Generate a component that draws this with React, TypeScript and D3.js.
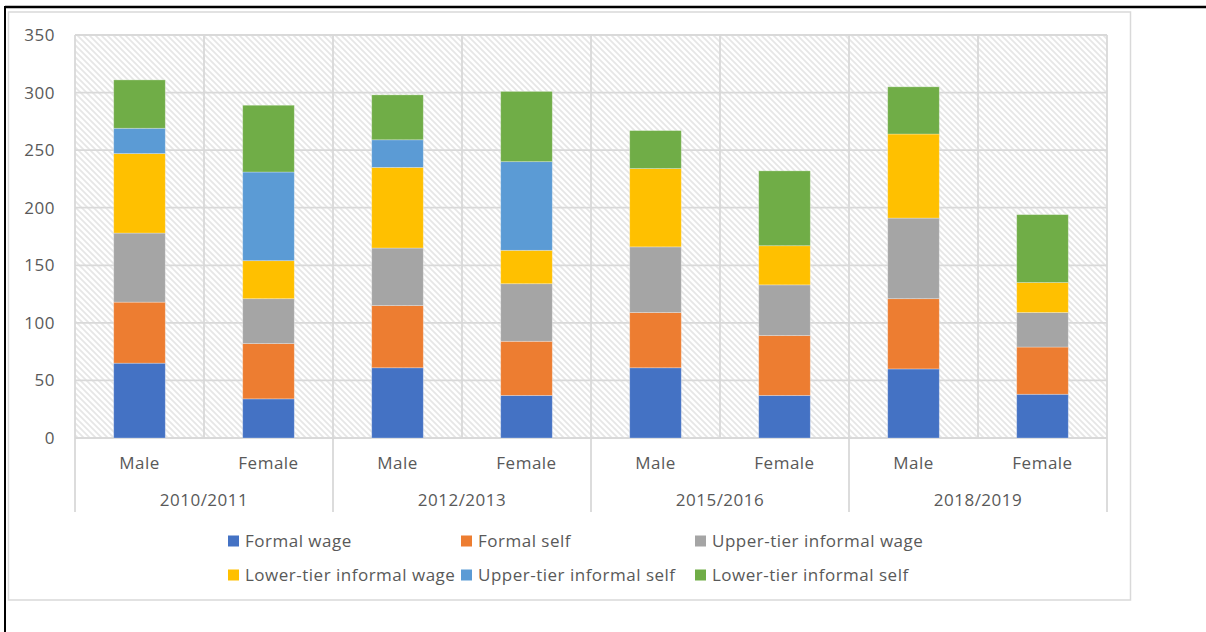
import * as d3 from "d3";

const years = ["2010/2011", "2012/2013", "2015/2016", "2018/2019"];
const sexes = ["Male", "Female"];
const seriesNames = [
  "Formal wage",
  "Formal self",
  "Upper-tier informal wage",
  "Lower-tier informal wage",
  "Upper-tier informal self",
  "Lower-tier informal self",
];
const colors = ["#4472C4", "#ED7D31", "#A5A5A5", "#FFC000", "#5B9BD5", "#70AD47"];

// order: 2010 M, 2010 F, 2012 M, 2012 F, 2015 M, 2015 F, 2018 M, 2018 F
const formalWage = [65, 34, 61, 37, 61, 37, 60, 38];
const formalSelf = [53, 48, 54, 47, 48, 52, 61, 41];
const upperWage = [60, 39, 50, 50, 57, 44, 70, 30];
const lowerWage = [69, 33, 70, 29, 68, 34, 73, 26];
const upperSelf = [22, 77, 24, 77, 0, 0, 0, 0];
const lowerSelf = [42, 58, 39, 61, 33, 65, 41, 59];

const yTicks = [0, 50, 100, 150, 200, 250, 300, 350];

const W = 1206;
const H = 632;
const plot = { left: 75, right: 1107, top: 35, bottom: 438 };
const font = "'Open Sans', 'Noto Sans', sans-serif";
const fontSize = 17;
const spacing = 0.5;
const textColor = "#595959";
const gridColor = "#d9d9d9";

export default function App() {
  const cats = years.flatMap((yr) => sexes.map((s) => `${yr}|${s}`));
  const allSeries = [formalWage, formalSelf, upperWage, lowerWage, upperSelf, lowerSelf];
  const rows = cats.map((c, i) => {
    const r: Record<string, number | string> = { cat: c };
    seriesNames.forEach((n, k) => (r[n] = allSeries[k][i]));
    return r;
  });
  const stacked = d3.stack<Record<string, number | string>>().keys(seriesNames)(rows as any);

  const x = d3.scaleBand().domain(cats).range([plot.left, plot.right]).padding(0);
  const xg = d3.scaleBand().domain(years).range([plot.left, plot.right]).padding(0);
  const y = d3.scaleLinear().domain([0, 350]).range([plot.bottom, plot.top]);
  const barW = x.bandwidth() * 0.4;

  const legendCols = [228, 461, 695];
  const legendRows = [541, 575];

  const txt = { fontFamily: font, fontSize, fill: textColor, letterSpacing: spacing };

  return (
    <svg
      width={W}
      height={H}
      style={{ position: "absolute", left: 0, top: 0, background: "#fff" }}
    >
      <defs>
        <pattern id="hatch" patternUnits="userSpaceOnUse" width={6} height={6}>
          <rect width={6} height={6} fill="#fff" />
          <path d="M-1,-1 L7,7 M-1,5 L1,7 M5,-1 L7,1" stroke="#e6e6e6" strokeWidth={1.7} />
        </pattern>
      </defs>

      {/* outer black frame (top and left) */}
      <line x1={5} y1={7} x2={W} y2={7} stroke="#000" strokeWidth={2.5} />
      <line x1={5} y1={6} x2={5} y2={H} stroke="#000" strokeWidth={2} />

      {/* chart box */}
      <rect x={8.5} y={12} width={1122} height={588} fill="#fff" stroke={gridColor} strokeWidth={1.5} />

      {/* plot area */}
      <rect
        x={plot.left}
        y={plot.top}
        width={plot.right - plot.left}
        height={plot.bottom - plot.top}
        fill="url(#hatch)"
      />

      {/* horizontal gridlines */}
      {yTicks.map((t) => (
        <line key={t} x1={plot.left} x2={plot.right} y1={y(t)} y2={y(t)} stroke={gridColor} strokeWidth={1.8} />
      ))}
      {/* vertical gridlines */}
      {cats.map((c) => (
        <line key={c} x1={x(c)!} x2={x(c)!} y1={plot.top} y2={plot.bottom} stroke={gridColor} strokeWidth={1.8} />
      ))}
      <line x1={plot.right} x2={plot.right} y1={plot.top} y2={plot.bottom} stroke={gridColor} strokeWidth={1.8} />

      {/* bars */}
      {stacked.map((layer, k) => (
        <g key={layer.key} fill={colors[k]}>
          {layer.map((d, i) =>
            d[1] - d[0] > 0 ? (
              <rect
                key={i}
                x={x(cats[i])! + (x.bandwidth() - barW) / 2}
                y={y(d[1])}
                width={barW}
                height={y(d[0]) - y(d[1])}
                stroke="#fff"
                strokeOpacity={0.35}
                strokeWidth={0.8}
              />
            ) : null
          )}
        </g>
      ))}

      {/* y tick labels */}
      {yTicks.map((t) => (
        <text key={t} x={55} y={y(t)} dy="0.35em" textAnchor="end" {...txt}>
          {t}
        </text>
      ))}

      {/* category axis */}
      {years.map((yr) => (
        <line
          key={yr}
          x1={xg(yr)!}
          x2={xg(yr)!}
          y1={plot.bottom}
          y2={512}
          stroke={gridColor}
          strokeWidth={1.8}
        />
      ))}
      <line x1={plot.right} x2={plot.right} y1={plot.bottom} y2={512} stroke={gridColor} strokeWidth={1.8} />
      {cats.map((c) => (
        <text key={c} x={x(c)! + x.bandwidth() / 2} y={463} dy="0.35em" textAnchor="middle" {...txt}>
          {c.split("|")[1]}
        </text>
      ))}
      {years.map((yr) => (
        <text key={yr} x={xg(yr)! + xg.bandwidth() / 2} y={500} dy="0.35em" textAnchor="middle" {...txt}>
          {yr}
        </text>
      ))}

      {/* legend */}
      {seriesNames.map((n, k) => {
        const lx = legendCols[k % 3];
        const ly = legendRows[Math.floor(k / 3)];
        return (
          <g key={n}>
            <rect x={lx} y={ly - 5.5} width={11} height={11} fill={colors[k]} />
            <text x={lx + 17} y={ly} dy="0.35em" {...txt}>
              {n}
            </text>
          </g>
        );
      })}
    </svg>
  );
}
